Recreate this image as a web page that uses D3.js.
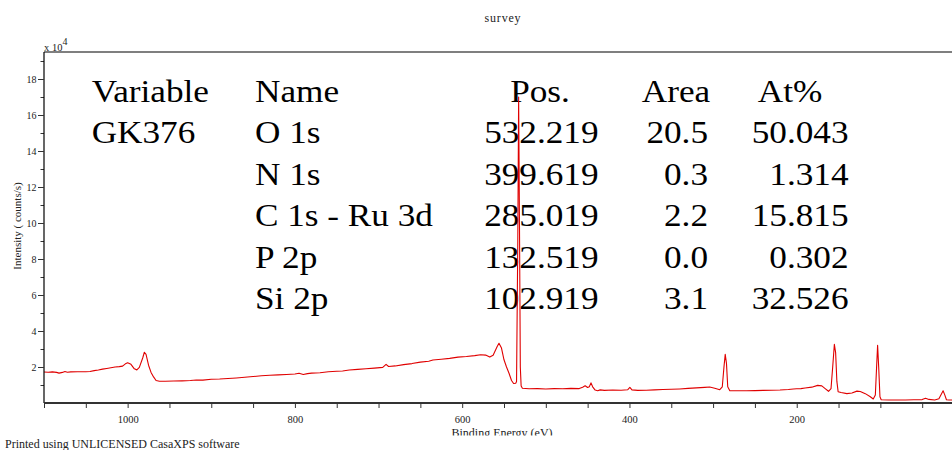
<!DOCTYPE html>
<html>
<head>
<meta charset="utf-8">
<script src="https://cdn.jsdelivr.net/npm/d3@7"></script>
<style>
  body { margin: 0; background: #fff; }
  svg { display: block; }
  text { font-family: "Liberation Serif", "Times New Roman", serif; }
</style>
</head>
<body>
<div id="chart"></div>
<script>
// ---------------- data ----------------
const chartTitle = "survey";
const xLabel = "Binding Energy (eV)";
const yLabel = "Intensity ( counts/s)";
const footer = "Printed using UNLICENSED CasaXPS software";

// binding energy (eV), descending
const energy = [1100,1095,1090,1085,1082,1078,1075,1072,1068,1060,1050,1045,1040,1035,1030,1025,1020,1015,1010,1006,1002,1000,996,992,989,986,982,980,978,975,972,969,966,962,955,945,935,925,918,910,900,890,880,870,860,850,840,830,820,810,800,795,790,785,780,770,760,750,743,735,725,715,705,695,691,688,680,670,660,650,640,635,625,615,605,595,585,578,572,567,563,558,556,553,550,547,544,541,538.5,536,535,533.5,532.5,531.5,530.5,529.5,528,520,510,500,490,480,470,460,456,453,450,448,446,444,441,438,435,430,420,410,402,399.5,397,390,380,370,360,350,340,330,320,310,304,298,292,289,287,285.5,284,282.5,280,270,260,250,240,230,220,210,204,200,195,190,182,175,170,166,162,159,157,155,153.5,152,150.5,147,140,134,128,124,118,112,108.5,106,104.5,103.3,102,100.5,99,90,80,70,60,50,46,42,35,30,27,25,23,21,18,15,10];
// intensity (counts/s)
const counts = [17200,17100,17300,17000,16600,17000,17500,17100,17300,17400,17400,17500,18000,18300,18800,19200,19600,20000,20200,20500,22000,22400,21500,19000,18400,19800,25000,28200,27000,21000,17000,14500,12500,12100,12100,12200,12300,12500,12800,12700,13200,13300,13600,13900,14300,14700,15100,15400,15600,15800,16100,16500,15800,16300,16600,16800,17400,17600,17800,18300,18700,19000,19400,19800,21500,20300,20600,21300,21900,22700,23200,23900,24300,24800,25500,25800,26300,26800,26600,25500,26500,31500,33200,30500,24000,20000,16500,12500,10800,11000,12000,90000,170000,100000,20000,9500,8200,7900,8000,7800,8000,7900,8100,8000,8800,9600,8600,9000,11200,9000,7200,6800,7300,7000,7200,7100,7400,8700,7300,7000,7100,7300,7500,7600,7800,8100,8400,8700,8900,8200,7400,9000,20000,27000,22000,9000,6800,6800,6800,6900,7000,7100,7200,7500,7800,7900,8000,8300,8800,9800,9500,8000,6500,8000,20000,32600,28000,12000,6300,5800,5200,5600,6600,6400,5200,3500,2200,4500,20000,32000,20000,3500,1800,1700,1700,1700,1800,1900,2600,2000,1700,2400,5000,6800,4500,1800,1700,1700,1700];

// quantification table
const tableHeaders = ["Variable", "Name", "Pos.", "Area", "At%"];
const sampleName = ["GK376"];
const peakNames = ["O 1s", "N 1s", "C 1s - Ru 3d", "P 2p", "Si 2p"];
const peakPos = ["532.219", "399.619", "285.019", "132.519", "102.919"];
const peakArea = ["20.5", "0.3", "2.2", "0.0", "3.1"];
const atomicPct = ["50.043", "1.314", "15.815", "0.302", "32.526"];

// axis ticks
const xMajorTicks = [1000, 800, 600, 400, 200];
const yMajorTicks = [2, 4, 6, 8, 10, 12, 14, 16, 18];

// ---------------- chart ----------------
const W = 952, H = 450;
const svg = d3.select("#chart").append("svg").attr("width", W).attr("height", H);

const pLeft = 44, pTop = 52, pBottom = 403, pRight = 964;
const x = d3.scaleLinear().domain([1100, 0]).range([pLeft, pRight]);
const y = d3.scaleLinear().domain([0, 195000]).range([pBottom, pTop]);

const defs = svg.append("defs");
defs.append("clipPath").attr("id", "plotclip")
  .append("rect").attr("x", pLeft).attr("y", pTop).attr("width", pRight - pLeft).attr("height", pBottom - pTop);
defs.append("clipPath").attr("id", "xlabclip")
  .append("rect").attr("x", 0).attr("y", 0).attr("width", W).attr("height", 435.5);

// title
svg.append("text").attr("x", 503).attr("y", 22).attr("text-anchor", "middle")
  .attr("font-size", 12).attr("letter-spacing", 0.8).attr("fill", "#222").text(chartTitle);

// table
const sx = 1.1;
const tg = svg.append("g").attr("transform", `scale(${sx},1)`).attr("font-size", 32).attr("fill", "#000");
const rowY = i => 102 + i * 41.5;
tg.append("text").attr("x", 91.7 / sx).attr("y", rowY(0)).text(tableHeaders[0]);
tg.append("text").attr("x", 255 / sx).attr("y", rowY(0)).text(tableHeaders[1]);
tg.append("text").attr("x", 540 / sx).attr("y", rowY(0)).attr("text-anchor", "middle").text(tableHeaders[2]);
tg.append("text").attr("x", 676 / sx).attr("y", rowY(0)).attr("text-anchor", "middle").text(tableHeaders[3]);
tg.append("text").attr("x", 790 / sx).attr("y", rowY(0)).attr("text-anchor", "middle").text(tableHeaders[4]);
tg.append("text").attr("x", 91.7 / sx).attr("y", rowY(1)).text(sampleName[0]);
peakNames.forEach((n, i) => {
  tg.append("text").attr("x", 255 / sx).attr("y", rowY(i + 1)).text(n);
  tg.append("text").attr("x", 598.5 / sx).attr("y", rowY(i + 1)).attr("text-anchor", "end").text(peakPos[i]);
  tg.append("text").attr("x", 708 / sx).attr("y", rowY(i + 1)).attr("text-anchor", "end").text(peakArea[i]);
  tg.append("text").attr("x", 848.5 / sx).attr("y", rowY(i + 1)).attr("text-anchor", "end").text(atomicPct[i]);
});

// spectrum line
const pts = energy.map((e, i) => [e, counts[i]]);
svg.append("path").datum(pts)
  .attr("clip-path", "url(#plotclip)")
  .attr("fill", "none").attr("stroke", "#e00000").attr("stroke-width", 1.1)
  .attr("stroke-linejoin", "round")
  .attr("d", d3.line().x(d => x(d[0])).y(d => y(d[1])));

// frame top
svg.append("line").attr("x1", pLeft).attr("x2", W).attr("y1", pTop).attr("y2", pTop)
  .attr("stroke", "#000").attr("stroke-width", 1.2);

// y axis minor
const yMinor = d3.range(1, 20).map(v => v * 1e4);
svg.append("g").attr("transform", `translate(${pLeft},0)`)
  .call(d3.axisLeft(y).tickValues(yMinor).tickSize(3.5).tickFormat(""))
  .call(g => g.select(".domain").remove())
  .selectAll("line").attr("stroke", "#333");
// y axis major
const yAx = svg.append("g").attr("transform", `translate(${pLeft},0)`)
  .call(d3.axisLeft(y).tickValues(yMajorTicks.map(v => v * 1e4)).tickSize(6).tickPadding(1.5)
    .tickFormat(d => d / 1e4));
yAx.select(".domain").attr("stroke", "#000").attr("stroke-width", 1.2).attr("d", `M0,${pBottom}V${pTop}`);
yAx.selectAll("line").attr("stroke", "#333");
yAx.selectAll("text").attr("font-family", "Liberation Serif").attr("font-size", 10).attr("fill", "#222");

// x axis
const xTicks = d3.range(1100, -1, -50);
const xAx = svg.append("g").attr("transform", `translate(0,${pBottom})`)
  .call(d3.axisBottom(x).tickValues(xTicks).tickSize(5).tickPadding(8)
    .tickFormat(d => xMajorTicks.includes(d) ? d : ""));
xAx.select(".domain").attr("stroke", "#333").attr("stroke-width", 2).attr("d", `M${pLeft},0H${W}`);
xAx.selectAll("line").attr("stroke", "#333");
xAx.selectAll("text").attr("font-family", "Liberation Serif").attr("font-size", 10.5).attr("fill", "#222");

// x10^4
const ex = svg.append("text").attr("x", 44).attr("y", 51).attr("font-size", 10.5).attr("fill", "#222");
ex.append("tspan").text("x 10");
ex.append("tspan").attr("dy", -6).attr("font-size", 10).text("4");

// axis labels
svg.append("text").attr("transform", "translate(21,226) rotate(-90)").attr("text-anchor", "middle")
  .attr("font-size", 11).attr("fill", "#222").text(yLabel);
svg.append("text").attr("x", 502).attr("y", 436.5).attr("text-anchor", "middle")
  .attr("clip-path", "url(#xlabclip)")
  .attr("font-size", 12).attr("fill", "#222").text(xLabel);

// footer
svg.append("text").attr("x", 5).attr("y", 448).attr("font-size", 12).attr("fill", "#222").text(footer);
</script>
</body>
</html>
